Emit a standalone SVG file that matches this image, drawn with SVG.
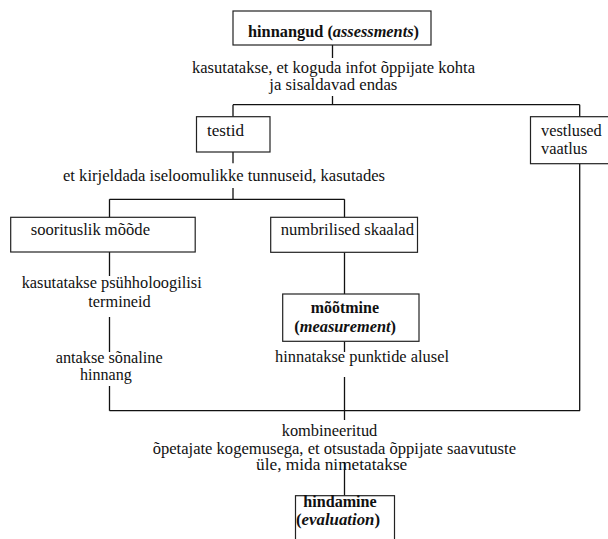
<svg xmlns="http://www.w3.org/2000/svg" width="608" height="539" viewBox="0 0 608 539">
<style>
.box{fill:#fff;stroke:#222;stroke-width:1.2}
.ln{fill:none;stroke:#111;stroke-width:1.3}
</style>
<rect width="608" height="539" fill="#fff"/>
<g id="connectors">
<path class="ln" d="M332.5 45V58M332.5 96V104.7M233 104.7H579.7M233 104.7V116.7M579.7 104.7V116.7M233 152V163.3M233 188V199.3M109.5 199.3H344.5M109.5 199.3V217.3M344.5 199.3V217.3M109.5 252V276M109.5 317V352M109.5 386V410.7M344.5 252.3V294M344.5 341.3V352M344.5 377V410.7M579.7 163.7V410.7M109.5 410.7H580M344.5 410.7V420M344.5 462V495.7"/>
</g>
<g font-family="Liberation Serif, Times New Roman, serif" font-size="16" fill="#111">
<g id="hinnangud">
<rect class="box" x="233" y="11" width="198" height="34"/>
<text font-weight="bold" x="248" y="36.5" textLength="171" lengthAdjust="spacingAndGlyphs">hinnangud (<tspan font-style="italic">assessments</tspan>)</text>
</g>
<g id="label-kasutatakse">
<text x="192" y="73" textLength="283" lengthAdjust="spacingAndGlyphs">kasutatakse, et koguda infot õppijate kohta</text>
<text x="269.3" y="89.5" textLength="128" lengthAdjust="spacingAndGlyphs">ja sisaldavad endas</text>
</g>
<g id="testid">
<rect class="box" x="196.5" y="116.7" width="73.5" height="35.3"/>
<text x="207" y="136" textLength="37" lengthAdjust="spacingAndGlyphs">testid</text>
</g>
<g id="vestlused">
<rect class="box" x="530.5" y="116.7" width="90" height="47"/>
<text x="541" y="135.7" textLength="60.7" lengthAdjust="spacingAndGlyphs">vestlused</text>
<text x="541" y="154" textLength="46.3" lengthAdjust="spacingAndGlyphs">vaatlus</text>
</g>
<g id="label-kirjeldada">
<text x="63" y="180.5" textLength="322" lengthAdjust="spacingAndGlyphs">et kirjeldada iseloomulikke tunnuseid, kasutades</text>
</g>
<g id="soorituslik">
<rect class="box" x="10.7" y="217.3" width="184.5" height="34.7"/>
<text x="30.7" y="235" textLength="119.3" lengthAdjust="spacingAndGlyphs">soorituslik mõõde</text>
</g>
<g id="numbrilised">
<rect class="box" x="270.7" y="217.3" width="146.8" height="35"/>
<text x="280.7" y="235" textLength="133.3" lengthAdjust="spacingAndGlyphs">numbrilised skaalad</text>
</g>
<g id="label-psyhholoogilisi">
<text x="21.7" y="288.3" textLength="180" lengthAdjust="spacingAndGlyphs">kasutatakse psühholoogilisi</text>
<text x="88.3" y="306.5" textLength="62.4" lengthAdjust="spacingAndGlyphs">termineid</text>
</g>
<g id="label-sonaline">
<text x="55.7" y="362.7" textLength="107" lengthAdjust="spacingAndGlyphs">antakse sõnaline</text>
<text x="80" y="380" textLength="51.7" lengthAdjust="spacingAndGlyphs">hinnang</text>
</g>
<g id="mootmine">
<rect class="box" x="282.7" y="294" width="136.3" height="47.3"/>
<text font-weight="bold" x="310.7" y="313.3" textLength="68.3" lengthAdjust="spacingAndGlyphs">mõõtmine</text>
<text font-weight="bold" x="294.3" y="331.7" textLength="101.7" lengthAdjust="spacingAndGlyphs">(<tspan font-style="italic">measurement</tspan>)</text>
</g>
<g id="label-punktide">
<text x="275" y="361.7" textLength="174" lengthAdjust="spacingAndGlyphs">hinnatakse punktide alusel</text>
</g>
<g id="label-kombineeritud">
<text x="281.7" y="436" textLength="95.6" lengthAdjust="spacingAndGlyphs">kombineeritud</text>
<text x="152.7" y="454" textLength="363.3" lengthAdjust="spacingAndGlyphs">õpetajate kogemusega, et otsustada õppijate saavutuste</text>
<text x="256" y="470" textLength="151.3" lengthAdjust="spacingAndGlyphs">üle, mida nimetatakse</text>
</g>
<g id="hindamine">
<rect class="box" x="295.5" y="495.7" width="99" height="50"/>
<text font-weight="bold" x="303.3" y="507.3" textLength="73.4" lengthAdjust="spacingAndGlyphs">hindamine</text>
<text font-weight="bold" x="296" y="525" textLength="84" lengthAdjust="spacingAndGlyphs">(<tspan font-style="italic">evaluation</tspan>)</text>
</g>
</g>
</svg>
